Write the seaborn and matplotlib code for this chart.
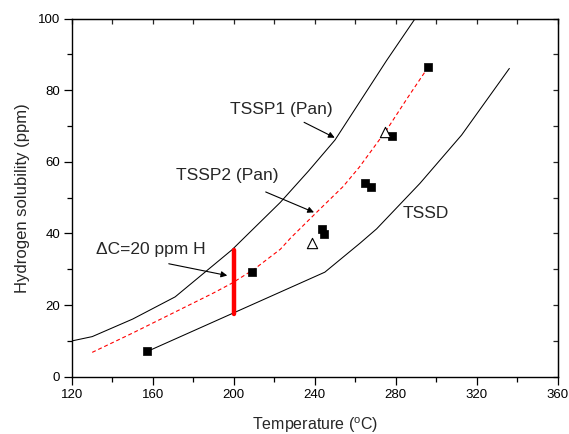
import numpy as np
import pandas as pd
import matplotlib
matplotlib.use("Agg")
import matplotlib.pyplot as plt
from matplotlib.ticker import MultipleLocator
import seaborn as sns

# ---- data ----
tssp1_T = [120, 130, 150, 171, 199, 210, 223, 237, 250, 275.5, 289.6]
tssp1_H = [10.0, 11.2, 16.1, 22.3, 35.4, 41.5, 48.7, 57.5, 66.1, 88.3, 100.0]

tssp2_T = [130, 150, 170, 190, 199, 210, 223, 228, 240, 254, 262, 275.5, 286, 296]
tssp2_H = [6.8, 12.2, 17.8, 23.4, 26.1, 30.0, 35.6, 38.7, 45.4, 53.1, 58.5, 68.9, 78.0, 86.4]

tssd_T = [157, 245, 262.4, 270.6, 292, 312.6, 336.2]
tssd_H = [7.0, 29.2, 37.3, 41.3, 54.0, 67.5, 86.1]

sq_T = [157, 209, 243.6, 244.6, 265, 268, 278, 295.8]
sq_H = [7.1, 29.2, 41.3, 39.9, 54.2, 52.9, 67.2, 86.4]

tri_T = [238.6, 274.7]
tri_H = [37.3, 68.3]

dc_T = [200, 200]
dc_H = [17.5, 35.5]

x_ticks = [120, 160, 200, 240, 280, 320, 360]
y_ticks = [0, 20, 40, 60, 80, 100]

# ---- style ----
sns.set_style("ticks")
plt.rcParams['font.family'] = ['Liberation Sans', 'DejaVu Sans']
plt.rcParams['mathtext.fontset'] = 'custom'
plt.rcParams['mathtext.rm'] = 'Liberation Sans'

fig = plt.figure(figsize=(5.69, 4.34), dpi=100)
ax = fig.add_axes([0.1265, 0.132, 0.8533, 0.825])

def line_df(T, H, name):
    return pd.DataFrame({"T": T, "H": H, "s": name})

sns.lineplot(data=line_df(tssp1_T, tssp1_H, "TSSP1"), x="T", y="H", ax=ax,
             color="black", lw=0.75, sort=False, estimator=None, legend=False)
sns.lineplot(data=line_df(tssd_T, tssd_H, "TSSD"), x="T", y="H", ax=ax,
             color="black", lw=0.75, sort=False, estimator=None, legend=False)
sns.lineplot(data=line_df(tssp2_T, tssp2_H, "TSSP2"), x="T", y="H", ax=ax,
             color="#ff0000", lw=0.8, sort=False, estimator=None, legend=False,
             linestyle=(0, (3.5, 2.5)))
sns.lineplot(data=line_df(dc_T, dc_H, "dC"), x="T", y="H", ax=ax,
             color="#ff0000", lw=3.2, sort=False, estimator=None, legend=False,
             solid_capstyle="round")

sns.scatterplot(x=sq_T, y=sq_H, ax=ax, marker="s", s=36, color="black",
                edgecolor="black", linewidth=0.5, zorder=5)
sns.scatterplot(x=tri_T, y=tri_H, ax=ax, marker="^", s=55, facecolor="white",
                edgecolor="black", linewidth=0.8, zorder=5)

ax.set_xlim(120, 360)
ax.set_ylim(0, 100)
ax.set_xticks(x_ticks)
ax.set_yticks(y_ticks)
ax.xaxis.set_minor_locator(MultipleLocator(20))
ax.yaxis.set_minor_locator(MultipleLocator(10))
ax.tick_params(axis="both", which="major", direction="out", length=5.5,
               width=0.9, labelsize=9.5, colors="black", pad=3)
ax.tick_params(axis="both", which="minor", direction="out", length=3.5,
               width=0.9, colors="black")
for sp in ax.spines.values():
    sp.set_linewidth(1.0)
    sp.set_color("black")
sns.despine(ax=ax, top=False, right=False)

# inward ticks on top and right
secx = ax.secondary_xaxis("top")
secx.set_xticks(np.arange(120, 361, 20))
secx.tick_params(direction="in", length=3.5, width=0.9, labeltop=False)
secx.set_xticklabels([])
secy = ax.secondary_yaxis("right")
secy.set_yticks(np.arange(0, 101, 10))
secy.tick_params(direction="in", length=3.5, width=0.9, labelright=False)
secy.set_yticklabels([])

ax.set_xlabel(r"Temperature ($\mathregular{^o}$C)", fontsize=11.5, labelpad=11)
ax.set_ylabel("Hydrogen solubility (ppm)", fontsize=12, labelpad=6)

arrow = dict(arrowstyle="-|>", color="black", lw=0.8, mutation_scale=9)
fs = 12.5
ax.annotate("TSSP1 (Pan)", xy=(251.1, 66.4), xytext=(198.1, 74.5),
            fontsize=fs, va="center", ha="left")
ax.annotate("", xy=(251.1, 66.4), xytext=(233.5, 71.4), arrowprops=arrow)
ax.annotate("TSSP2 (Pan)", xy=(240.9, 45.6), xytext=(171.6, 56.1),
            fontsize=fs, va="center", ha="left")
ax.annotate("", xy=(240.9, 45.6), xytext=(214.5, 51.9), arrowprops=arrow)
ax.annotate("\u0394C=20 ppm H", xy=(198.1, 28.1), xytext=(131.7, 35.6),
            fontsize=fs, va="center", ha="left")
ax.annotate("", xy=(198.1, 28.1), xytext=(166.5, 31.7), arrowprops=arrow)
ax.text(283.6, 45.6, "TSSD", fontsize=fs, va="center", ha="left")

fig.savefig("out.png", dpi=100)
